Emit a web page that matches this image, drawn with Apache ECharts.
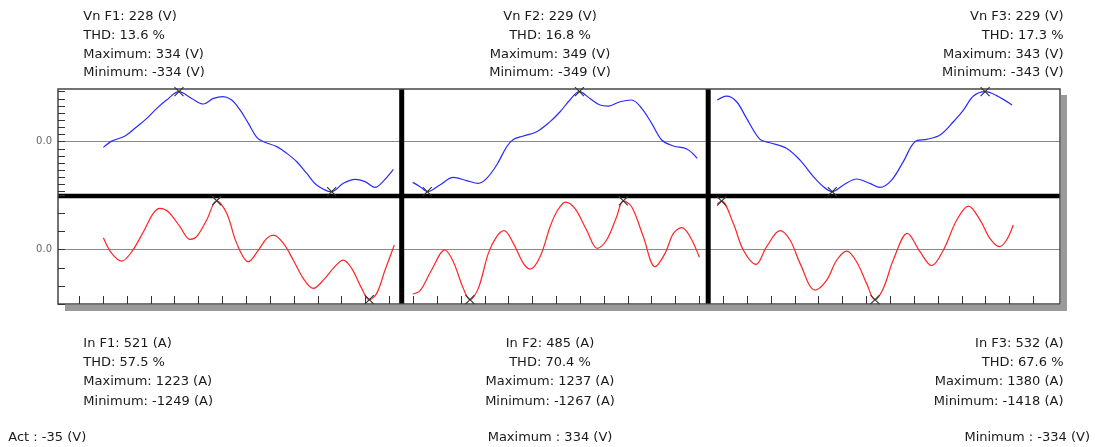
<!DOCTYPE html>
<html><head><meta charset="utf-8">
<script src="https://cdn.jsdelivr.net/npm/echarts@6/dist/echarts.min.js"></script>
<style>html,body{margin:0;padding:0;background:#fff}#c{width:1095px;height:447px}</style>
</head><body><div id="c"></div>
<script>
// ---- data (x = time in axis divisions, y = instantaneous value) ----
const phases = ['F1', 'F2', 'F3'];
const vnF1 = [[1.01,-38],[1.36,4],[1.92,38],[2.41,100],[2.83,156],[3.25,223],[3.66,278],[4.18,334],[4.71,289],[5.20,252],[5.62,289],[6.04,301],[6.39,278],[6.74,212],[7.09,122],[7.44,29],[7.72,0],[8.28,-33],[8.70,-78],[9.12,-134],[9.54,-212],[9.95,-289],[10.58,-334],[11.07,-278],[11.56,-252],[11.98,-267],[12.40,-305],[12.75,-263],[13.17,-185]];
const vnF2 = [[13.98,-284],[14.29,-314],[14.59,-349],[15.12,-302],[15.68,-249],[16.24,-272],[16.73,-291],[17.08,-256],[17.50,-163],[17.92,-35],[18.20,16],[18.62,40],[19.18,70],[19.74,140],[20.16,209],[20.57,291],[20.97,349],[21.41,302],[21.83,256],[22.18,249],[22.67,279],[23.16,291],[23.58,233],[24.00,128],[24.42,12],[24.91,-30],[25.47,-51],[25.91,-116]];
const vnF3 = [[26.75,286],[27.14,313],[27.56,274],[27.98,160],[28.54,16],[28.96,-7],[29.66,-46],[30.22,-126],[30.78,-240],[31.20,-309],[31.57,-343],[32.04,-297],[32.59,-256],[33.15,-286],[33.57,-313],[34.06,-263],[34.55,-137],[35.04,0],[35.53,16],[36.09,46],[36.65,137],[37.07,217],[37.49,313],[37.98,343],[38.46,316],[39.11,252]];
const inF1 = [[1.01,300],[1.36,-92],[1.78,-283],[2.20,-50],[2.69,450],[3.10,908],[3.38,1033],[3.73,949],[4.22,575],[4.64,258],[4.92,325],[5.34,741],[5.76,1223],[6.18,908],[6.60,158],[7.09,-300],[7.51,-8],[7.86,283],[8.14,366],[8.56,158],[8.97,-258],[9.39,-716],[9.81,-966],[10.30,-716],[10.65,-466],[11.07,-258],[11.42,-466],[11.84,-966],[12.16,-1249],[12.47,-1091],[12.82,-508],[13.21,117]];
const inF2 = [[13.98,-1123],[14.29,-1039],[14.77,-515],[15.33,-8],[15.68,-304],[16.10,-980],[16.38,-1267],[16.73,-980],[17.15,-93],[17.50,329],[17.81,481],[18.20,160],[18.62,-346],[18.90,-490],[19.32,-177],[19.74,583],[20.02,963],[20.39,1208],[20.78,1047],[21.27,498],[21.72,34],[22.11,245],[22.53,836],[22.81,1237],[23.16,1090],[23.65,329],[24.14,-431],[24.56,-93],[24.91,414],[25.26,557],[25.61,329],[26.00,-194]];
const inF3 = [[26.75,1295],[26.93,1380],[27.42,747],[27.84,-9],[28.37,-416],[28.82,85],[29.38,539],[29.80,274],[30.22,-388],[30.85,-1144],[31.34,-860],[31.76,-293],[32.18,-38],[32.59,-340],[33.01,-955],[33.36,-1418],[33.71,-1097],[34.13,-293],[34.72,463],[35.25,-57],[35.74,-454],[36.23,-9],[36.79,841],[37.28,1238],[37.77,841],[38.18,321],[38.58,85],[38.88,274],[39.16,700]];

const vnRms = [228, 229, 229];
const vnThd = [13.6, 16.8, 17.3];
const vnMax = [334, 349, 343];
const vnMin = [-334, -349, -343];
const inRms = [521, 485, 532];
const inThd = [57.5, 70.4, 67.6];
const inMax = [1223, 1237, 1380];
const inMin = [-1249, -1267, -1418];
const footAct = -35, footMax = 334, footMin = -334;
const xTickMin = 0, xTickMax = 40, xTickStep = 1;

// ---- layout ----
const X0 = 79.3, XW = 954;
const FL = 58, FT = 89, FR = 1060, FB = 304;
const rows = [{top: 91.7, height: 100}, {top: 195.4, height: 108.6}];
const botFactor = 54.3 / 50;
const vWaves = [vnF1, vnF2, vnF3], iWaves = [inF1, inF2, inF3];
const BLUE = '#2a2aff', RED = '#ff2424';
const FONT = "13px 'DejaVu Sans'";

const grids = [], xAxes = [], yAxes = [], series = [];
const xSym = 'path://M0,0L10,10M10,0L0,10';
for (let r = 0; r < 2; r++) {
  for (let c = 0; c < 3; c++) {
    const idx = r * 3 + c;
    grids.push({left: X0, width: XW, top: rows[r].top, height: rows[r].height, containLabel: false, outerBoundsMode: 'none'});
    xAxes.push({
      gridIndex: idx, type: 'value', min: xTickMin, max: xTickMax, interval: xTickStep,
      show: idx === 3, position: 'bottom',
      axisLine: {show: false, onZero: false},
      axisTick: {show: true, inside: true, length: 8, lineStyle: {color: '#333', width: 1}},
      axisLabel: {show: false}, splitLine: {show: false}
    });
    let M, steps;
    if (r === 0) { M = Math.max(vnMax[c], -vnMin[c]); steps = 7; }
    else { M = Math.max(inMax[c], -inMin[c]) * botFactor; steps = 3; }
    yAxes.push({
      gridIndex: idx, type: 'value', min: -M, max: M, interval: M / steps,
      show: c === 0, position: 'left', offset: X0 - FL,
      axisLine: {show: false, onZero: false},
      axisTick: {show: true, inside: true, length: 7, lineStyle: {color: '#333', width: 1}},
      axisLabel: {show: true, margin: 6, color: '#666', fontFamily: 'DejaVu Sans', fontSize: 10,
        formatter: v => (Math.abs(v) < M * 1e-6 ? '0.0' : '')},
      splitLine: {show: false}
    });
    series.push({
      type: 'line', xAxisIndex: idx, yAxisIndex: idx,
      data: r === 0 ? vWaves[c] : iWaves[c],
      showSymbol: false, smooth: 0.35, clip: false, silent: true,
      lineStyle: {color: r === 0 ? BLUE : RED, width: 1.2},
      markPoint: {
        symbol: xSym, symbolSize: 9, silent: true,
        itemStyle: {color: 'rgba(0,0,0,0)', borderColor: '#333', borderWidth: 1.1},
        label: {show: false},
        data: [{type: 'max'}, {type: 'min'}]
      }
    });
  }
}

// ---- decorations & text ----
const gfx = [];
gfx.push({type: 'rect', shape: {x: FR + 1, y: 95, width: 6, height: FB - 95 + 7}, style: {fill: '#9a9a9a'}, z: -5});
gfx.push({type: 'rect', shape: {x: 65, y: FB + 1, width: FR - 65 + 7, height: 6}, style: {fill: '#9a9a9a'}, z: -5});
gfx.push({type: 'line', shape: {x1: FL, y1: 141.5, x2: FR, y2: 141.5}, style: {stroke: '#8a8a8a', lineWidth: 1}, z: -4});
gfx.push({type: 'line', shape: {x1: FL, y1: 249.5, x2: FR, y2: 249.5}, style: {stroke: '#8a8a8a', lineWidth: 1}, z: -4});
gfx.push({type: 'line', shape: {x1: FL, y1: 196, x2: FR, y2: 196}, style: {stroke: '#000', lineWidth: 4.5}, z: -3});
gfx.push({type: 'line', shape: {x1: 401.7, y1: FT, x2: 401.7, y2: FB}, style: {stroke: '#000', lineWidth: 5}, z: -3});
gfx.push({type: 'line', shape: {x1: 708.2, y1: FT, x2: 708.2, y2: FB}, style: {stroke: '#000', lineWidth: 5}, z: -3});
gfx.push({type: 'rect', shape: {x: FL, y: FT, width: FR - FL, height: FB - FT}, style: {fill: 'none', stroke: '#454545', lineWidth: 1.5}, z: -2});

const colX = [83.3, 550, 1063.5], colAlign = ['left', 'center', 'right'];
const topY = [17, 35.6, 54.3, 73], botY = [343.6, 362.8, 382, 401.3];
function addText(t, x, y, align) {
  gfx.push({type: 'text', x: x, y: y, z: 5, style: {text: t, font: FONT, fill: '#1a1a1a', textAlign: align, textVerticalAlign: 'middle'}});
}
for (let c = 0; c < 3; c++) {
  const tl = ['Vn ' + phases[c] + ': ' + vnRms[c] + ' (V)', 'THD: ' + vnThd[c].toFixed(1) + ' %', 'Maximum: ' + vnMax[c] + ' (V)', 'Minimum: ' + vnMin[c] + ' (V)'];
  const bl = ['In ' + phases[c] + ': ' + inRms[c] + ' (A)', 'THD: ' + inThd[c].toFixed(1) + ' %', 'Maximum: ' + inMax[c] + ' (A)', 'Minimum: ' + inMin[c] + ' (A)'];
  tl.forEach((t, i) => addText(t, colX[c], topY[i], colAlign[c]));
  bl.forEach((t, i) => addText(t, colX[c], botY[i], colAlign[c]));
}
addText('Act : ' + footAct + ' (V)', 8.3, 438, 'left');
addText('Maximum : ' + footMax + ' (V)', 550, 438, 'center');
addText('Minimum : ' + footMin + ' (V)', 1090, 438, 'right');

const chart = echarts.init(document.getElementById('c'), null, {renderer: 'canvas'});
chart.setOption({
  animation: false,
  backgroundColor: '#fff',
  grid: grids, xAxis: xAxes, yAxis: yAxes, series: series,
  graphic: {elements: gfx}
});
</script></body></html>
